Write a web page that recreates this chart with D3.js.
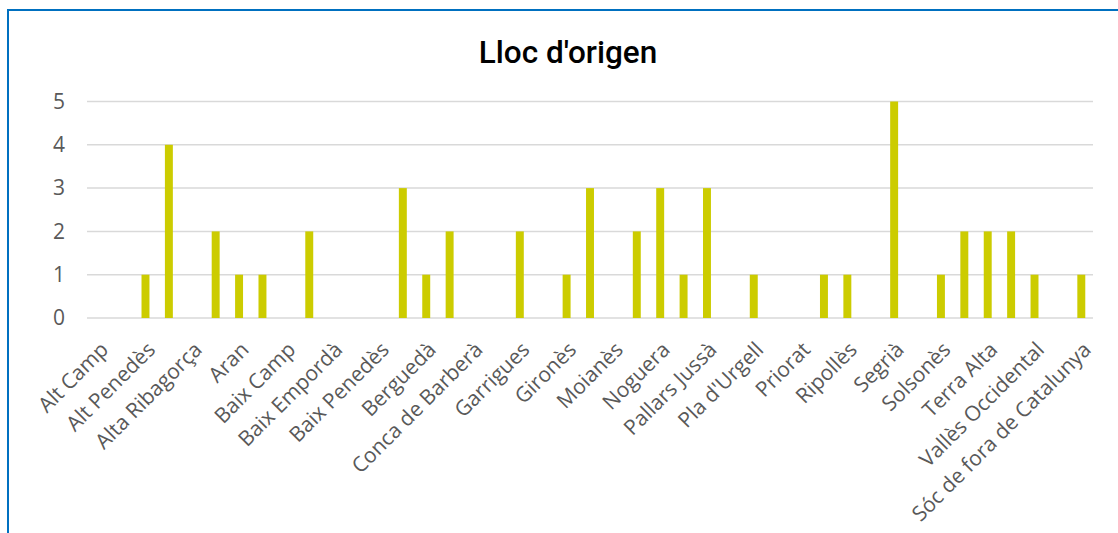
<!DOCTYPE html>
<html>
<head>
<meta charset="utf-8">
<script src="https://cdn.jsdelivr.net/npm/d3@7"></script>
<style>
  body { margin: 0; background: #fff; }
  svg { display: block; }
</style>
</head>
<body>
<script>
var comarques = ['Alt Camp', 'Alt Empordà', 'Alt Penedès', 'Alt Urgell', 'Alta Ribagorça', 'Anoia', 'Aran',
  'Bages', 'Baix Camp', 'Baix Ebre', 'Baix Empordà', 'Baix Llobregat', 'Baix Penedès', 'Barcelonès',
  'Berguedà', 'Cerdanya', 'Conca de Barberà', 'Garraf', 'Garrigues', 'Garrotxa', 'Gironès', 'Maresme',
  'Moianès', 'Montsià', 'Noguera', 'Osona', 'Pallars Jussà', 'Pallars Sobirà', "Pla d'Urgell",
  "Pla de l'Estany", 'Priorat', "Ribera d'Ebre", 'Ripollès', 'Segarra', 'Segrià', 'Selva', 'Solsonès',
  'Tarragonès', 'Terra Alta', 'Urgell', 'Vallès Occidental', 'Vallès Oriental', 'Sóc de fora de Catalunya'];
var persones = [0, 0, 1, 4, 0, 2, 1,
  1, 0, 2, 0, 0, 0, 3,
  1, 2, 0, 0, 2, 0, 1, 3,
  0, 2, 3, 1, 3, 0, 1,
  0, 0, 1, 1, 0, 5, 0, 1,
  2, 2, 2, 1, 0, 1];
var yTicks = [0, 1, 2, 3, 4, 5];
var titol = "Lloc d'origen";

var screen = { width: 1118, height: 533 };
var margins = { top: 101.5, bottom: 215, left: 87, right: 25 };
var font_size = 21;

var svg = d3.select('body').append('svg')
            .attr('width', screen.width)
            .attr('height', screen.height);

// chart frame (runs off the right and bottom of the picture)
svg.append('rect')
   .attr('x', 8).attr('y', 10)
   .attr('width', 1130).attr('height', 540)
   .attr('fill', 'none')
   .attr('stroke', '#0070c0')
   .attr('stroke-width', 2);

var xScale = d3.scaleBand()
               .domain(comarques)
               .range([margins.left, screen.width - margins.right])
               .paddingInner(0.66)
               .paddingOuter(0.33);
var yScale = d3.scaleLinear()
               .domain([0, 5])
               .range([screen.height - margins.bottom, margins.top]);

// gridlines
svg.append('g')
   .selectAll('line')
   .data(yTicks)
   .enter()
   .append('line')
   .attr('x1', margins.left)
   .attr('x2', screen.width - margins.right)
   .attr('y1', function(d){ return yScale(d); })
   .attr('y2', function(d){ return yScale(d); })
   .attr('stroke', '#d9d9d9')
   .attr('stroke-width', 1.5);

// y labels
var yAxis = d3.axisLeft(yScale)
              .tickValues(yTicks)
              .tickFormat(d3.format('d'))
              .tickSize(0)
              .tickPadding(22);
svg.append('g')
   .attr('transform', 'translate(' + margins.left + ',0)')
   .call(yAxis)
   .call(function(g){ g.select('.domain').remove(); })
   .selectAll('text')
   .attr('fill', '#595959')
   .attr('font-family', 'Open Sans')
   .attr('font-size', font_size + 'px');

// bars
svg.append('g')
   .selectAll('rect')
   .data(persones)
   .enter()
   .append('rect')
   .attr('x', function(d, i){ return xScale(comarques[i]); })
   .attr('y', function(d){ return yScale(d); })
   .attr('width', xScale.bandwidth())
   .attr('height', function(d){ return yScale(0) - yScale(d); })
   .attr('fill', '#cccc00');

// category labels, only every second one fits
svg.append('g')
   .selectAll('text')
   .data(comarques.filter(function(d, i){ return i % 2 === 0; }))
   .enter()
   .append('text')
   .attr('transform', function(d){
     var cx = xScale(d) + xScale.bandwidth() / 2;
     return 'translate(' + (cx + 11) + ',' + (yScale(0) + 33) + ') rotate(-45)';
   })
   .attr('text-anchor', 'end')
   .attr('fill', '#595959')
   .attr('font-family', 'Open Sans')
   .attr('font-size', font_size + 'px')
   .text(function(d){ return d; });

svg.append('text')
   .attr('x', 568)
   .attr('y', 63)
   .attr('text-anchor', 'middle')
   .attr('fill', '#000')
   .attr('font-family', 'Roboto')
   .attr('font-weight', 500)
   .attr('font-size', '31.5px')
   .text(titol);
</script>
</body>
</html>
